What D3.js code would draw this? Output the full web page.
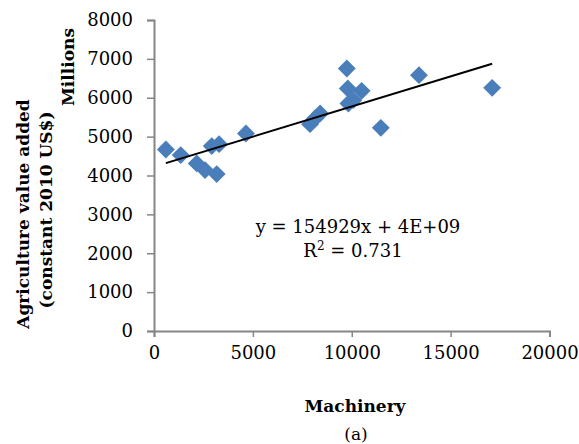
<!DOCTYPE html>
<html><head><meta charset="utf-8">
<script src="https://cdn.jsdelivr.net/npm/d3@7"></script>
<style>
html,body{margin:0;padding:0;background:#fff;}
svg{display:block;}
text{font-family:"DejaVu Serif",serif;fill:#000;}
</style></head>
<body>
<script>
// Data (Machinery, Agriculture value added in millions)
const machinery = [600, 1350, 2160, 2580, 3170, 2920, 3290, 4650, 7890, 8140, 8400, 9750, 9800, 9830, 10080, 10500, 11470, 13400, 17100];
const agriValue = [4670, 4525, 4311, 4139, 4036, 4756, 4807, 5082, 5321, 5468, 5597, 6753, 6239, 5853, 5938, 6177, 5226, 6581, 6255];
const xTicks = [0, 5000, 10000, 15000, 20000];
const yTicks = [0, 1000, 2000, 3000, 4000, 5000, 6000, 7000, 8000];
const trendSlope = 0.154929;
const trendIntercept = 4225;
const equationText = "y = 154929x + 4E+09";
const r2Value = "0.731";

const W = 579, H = 444;
const svg = d3.select("body").append("svg").attr("width", W).attr("height", H);

const x = d3.scaleLinear().domain([0, 20000]).range([154, 549.5]);
const y = d3.scaleLinear().domain([0, 8000]).range([331, 20]);

const axisColor = "#868686";

// X axis
const xAxis = svg.append("g").attr("transform", "translate(0,331)")
  .call(d3.axisBottom(x).tickValues(xTicks).tickSize(6).tickPadding(6).tickFormat(d3.format("d")));
// Y axis
const yAxis = svg.append("g").attr("transform", "translate(154,0)")
  .call(d3.axisLeft(y).tickValues(yTicks).tickSize(7).tickPadding(14).tickFormat(d3.format("d")));

[xAxis, yAxis].forEach(g => {
  g.select(".domain").attr("stroke", axisColor).attr("stroke-width", 2);
  g.selectAll(".tick line").attr("stroke", axisColor).attr("stroke-width", 1.5);
  g.selectAll(".tick text").style("font-family", "DejaVu Serif").style("font-size", "18px").attr("fill", "#000");
});
xAxis.selectAll(".tick text").attr("dy", "0.9em");

// Points (diamonds)
const diamond = d3.symbol().type(d3.symbolSquare).size(160);
svg.append("g").selectAll("path").data(machinery.map((m, i) => [m, agriValue[i]]))
  .join("path")
  .attr("d", diamond)
  .attr("transform", d => `translate(${x(d[0])},${y(d[1])}) rotate(45)`)
  .attr("fill", "#4a7ebb");

// Trend line
const xmin = d3.min(machinery), xmax = d3.max(machinery);
svg.append("line")
  .attr("x1", x(xmin)).attr("y1", y(trendSlope * xmin + trendIntercept))
  .attr("x2", x(xmax)).attr("y2", y(trendSlope * xmax + trendIntercept))
  .attr("stroke", "#000").attr("stroke-width", 2);

// Equation
svg.append("text").attr("x", 358).attr("y", 233).attr("text-anchor", "middle")
  .style("font-size", "18px").text(equationText);
const r2 = svg.append("text").attr("x", 353).attr("y", 257).attr("text-anchor", "middle").style("font-size", "18px");
r2.append("tspan").text("R");
r2.append("tspan").attr("baseline-shift", "super").style("font-size", "12px").text("2");
r2.append("tspan").text(" = " + r2Value);

// Axis titles
svg.append("text").attr("x", 355).attr("y", 412).attr("text-anchor", "middle")
  .style("font-size", "17px").style("font-weight", "bold").text("Machinery");
svg.append("text").attr("x", 356).attr("y", 440).attr("text-anchor", "middle")
  .style("font-size", "17px").text("(a)");

svg.append("text").attr("transform", "translate(29,214) rotate(-90)").attr("text-anchor", "middle")
  .style("font-size", "17px").style("font-weight", "bold").text("Agriculture value added");
svg.append("text").attr("transform", "translate(52,210) rotate(-90)").attr("text-anchor", "middle")
  .style("font-size", "17px").style("font-weight", "bold").text("(constant 2010 US$)");
svg.append("text").attr("transform", "translate(74,67) rotate(-90)").attr("text-anchor", "middle")
  .style("font-size", "17px").style("font-weight", "bold").text("Millions");
</script>
</body></html>
